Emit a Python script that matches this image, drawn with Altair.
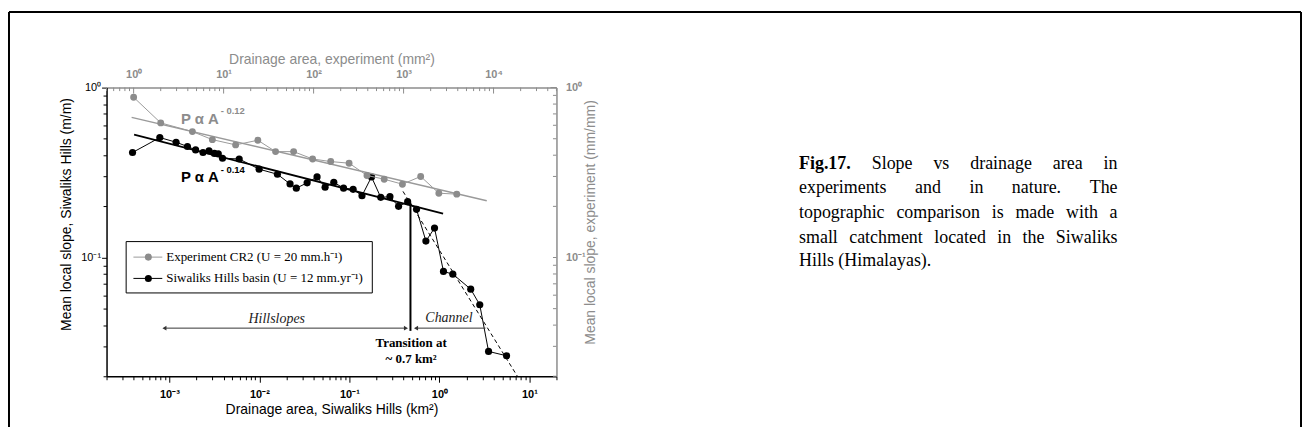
import altair as alt
import pandas as pd

# ---------------- data ----------------
siwaliks_area = [3.89e-4, 7.82e-4, 1.186e-3, 1.585e-3, 1.954e-3, 2.36e-3, 2.754e-3, 3.16e-3,
                 3.49e-3, 3.89e-3, 5.96e-3, 9.93e-3, 1.585e-2, 2.19e-2, 2.57e-2, 3.39e-2,
                 4.37e-2, 5.37e-2, 6.71e-2, 8.61e-2, 0.110, 0.138, 0.176, 0.223, 0.282,
                 0.352, 0.444, 0.557, 0.708, 0.883, 1.11, 1.41, 2.23, 2.81, 3.52, 5.58]
siwaliks_slope = [0.415, 0.508, 0.477, 0.45, 0.43, 0.415, 0.424, 0.41, 0.407, 0.384, 0.38,
                  0.331, 0.309, 0.271, 0.256, 0.275, 0.298, 0.259, 0.277, 0.256, 0.252,
                  0.231, 0.298, 0.226, 0.228, 0.20, 0.213, 0.192, 0.125, 0.149, 0.0828,
                  0.0798, 0.0651, 0.0527, 0.028, 0.0264]

exp_area = [1.0, 2.0, 4.5, 7.5, 13.6, 24, 37.8, 60, 97.5, 155, 248, 392, 609, 971, 1549, 2466, 3900]
exp_slope = [0.877, 0.62, 0.551, 0.494, 0.46, 0.49, 0.42, 0.42, 0.38, 0.367, 0.359, 0.304,
             0.289, 0.27, 0.30, 0.239, 0.236]

fit_siw_area = [4.05e-4, 1.10]
fit_siw_slope = [0.529, 0.181]
fit_exp_area = [0.95, 8400]
fit_exp_slope = [0.668, 0.216]
channel_fit_area = [0.394, 7.36]
channel_fit_slope = [0.245, 0.02]

transition_area = [0.477]
transition_top = [0.21]
transition_bottom = [0.037]
arrow_start = [8.8e-4, 0.55]
arrow_end = [0.425, 3.25]
arrow_slope = [0.0384, 0.0384]
head_area = [8.8e-4, 0.425, 0.55]
head_shape = ["triangle-left", "triangle-right", "triangle-left"]

legend_labels = ["Experiment CR2 (U = 20 mm.h\u207b\u00b9)", "Siwaliks Hills basin (U = 12 mm.yr\u207b\u00b9)"]

caption_words = [
    ["Fig.17.", "Slope", "vs", "drainage", "area", "in"],
    ["experiments", "and", "in", "nature.", "The"],
    ["topographic", "comparison", "is", "made", "with", "a"],
    ["small", "catchment", "located", "in", "the", "Siwaliks"],
    ["Hills (Himalayas)."],
]

# ---------------- layout ----------------
W, H = 452, 290
PAD_L, PAD_T = 99, 79
TOTAL_W, TOTAL_H = 1300, 419
GRAY = "#8c8c8c"
LGRAY = "#9a9a9a"
SANS = "Liberation Sans"
SERIF = "Liberation Serif"


def log_ticks(lo, hi):
    out = []
    for k in range(-5, 6):
        for m in range(1, 10):
            v = float(f"{m}e{k}")
            if lo * 0.999 <= v <= hi * 1.001:
                out.append(v)
    return out


LOGV = "log(datum.value)/LN10"
IS_MAJOR = f"abs({LOGV} - round({LOGV})) < 0.001"
LABEL = (f"{IS_MAJOR} ? '10' + ({LOGV} < -0.5 ? '\u207b' : '') + "
         f"['\u2070','\u00b9','\u00b2','\u00b3','\u2074','\u2075'][abs(round({LOGV}))] : ''")

xb_dom = [2e-4, 20]
xt_dom = [0.5, 5e4]
y_dom = [0.02, 1]

ax_bottom = alt.Axis(
    orient="bottom", values=log_ticks(*xb_dom), labelExpr=LABEL, grid=False,
    tickSize={"condition": {"test": IS_MAJOR, "value": 6}, "value": 3.5},
    tickColor="black", tickWidth=1, domainColor="black", domainWidth=1.5,
    labelFont=SANS, labelFontWeight="bold", labelFontSize=11, labelColor="black",
    labelPadding=6, labelOverlap=False, labelFlush=False,
    title="Drainage area, Siwaliks Hills (km\u00b2)", titleFont=SANS, titleFontSize=14,
    titleFontWeight="normal", titleColor="black", titlePadding=3)
ax_left = alt.Axis(
    orient="left", values=log_ticks(*y_dom), labelExpr=LABEL, grid=False,
    tickSize={"condition": {"test": IS_MAJOR, "value": 5}, "value": 3.5},
    tickColor="black", tickWidth=1, domainColor="black", domainWidth=1.5,
    labelFont=SANS, labelFontSize=11, labelColor="black", labelPadding=1,
    labelOverlap=False, labelFlush=False,
    title="Mean local slope, Siwaliks Hills (m/m)", titleFont=SANS, titleFontSize=14,
    titleFontWeight="normal", titleColor="black", titleAngle=270, titleBaseline="middle",
    titleX=-40.5, titleY=127)
ax_top = alt.Axis(
    orient="top", values=[1, 10, 100, 1000, 10000], labelExpr=LABEL, grid=False, ticks=False,
    domainColor=GRAY, domainWidth=1.5,
    labelFont=SANS, labelFontWeight="bold", labelFontSize=11, labelColor=GRAY,
    labelPadding=8, labelOverlap=False, labelFlush=False,
    title="Drainage area, experiment (mm\u00b2)", titleFont=SANS, titleFontSize=14,
    titleFontWeight="normal", titleColor=GRAY, titlePadding=2)
ax_right = alt.Axis(
    orient="right", values=[0.1, 1], labelExpr=LABEL, grid=False, ticks=False,
    domainColor=GRAY, domainWidth=1.5,
    labelFont=SANS, labelFontWeight="bold", labelFontSize=11, labelColor=GRAY,
    labelPadding=9, labelOverlap=False, labelFlush=False,
    title="Mean local slope, experiment (mm/mm)", titleFont=SANS, titleFontSize=14,
    titleFontWeight="normal", titleColor=GRAY, titleAngle=270, titleBaseline="middle",
    titleX=34, titleY=135)

XB = alt.X("area:Q", scale=alt.Scale(type="log", domain=xb_dom, nice=False), axis=ax_bottom)
YL = alt.Y("slope:Q", scale=alt.Scale(type="log", domain=y_dom, nice=False), axis=ax_left)
XT = alt.X("area:Q", scale=alt.Scale(type="log", domain=xt_dom, nice=False), axis=ax_top)
YR = alt.Y("slope:Q", scale=alt.Scale(type="log", domain=y_dom, nice=False), axis=ax_right)

# ---------------- black (Siwaliks) group ----------------
siw = pd.DataFrame({"area": siwaliks_area, "slope": siwaliks_slope})
fit_siw = pd.DataFrame({"area": fit_siw_area, "slope": fit_siw_slope})
chan_fit = pd.DataFrame({"area": channel_fit_area, "slope": channel_fit_slope})
trans = pd.DataFrame({"area": transition_area, "slope": transition_top, "slope2": transition_bottom})
arrows = pd.DataFrame({"area": arrow_start, "area2": arrow_end, "slope": arrow_slope})
heads = pd.DataFrame({"area": head_area, "slope": [arrow_slope[0]] * 3, "shape": head_shape})

black_group = alt.layer(
    alt.Chart(fit_siw).mark_line(color="black", strokeWidth=1.8, clip=True).encode(x=XB, y=YL),
    alt.Chart(chan_fit).mark_line(color="black", strokeWidth=1, strokeDash=[4, 3], clip=True).encode(x=XB, y=YL),
    alt.Chart(siw).mark_line(color="black", strokeWidth=1, clip=True).encode(x=XB, y=YL),
    alt.Chart(siw).mark_circle(color="black", size=52, opacity=1).encode(x=XB, y=YL),
    alt.Chart(trans).mark_rule(color="black", strokeWidth=2).encode(x=XB, y=YL, y2="slope2:Q"),
    alt.Chart(arrows).mark_rule(color="#333333", strokeWidth=1).encode(x=XB, x2="area2:Q", y=YL),
    alt.Chart(heads).mark_point(filled=True, color="#333333", size=22, opacity=1).encode(
        x=XB, y=YL, shape=alt.Shape("shape:N", scale=None)),
)

# ---------------- gray (experiment) group ----------------
exp = pd.DataFrame({"area": exp_area, "slope": exp_slope})
fit_exp = pd.DataFrame({"area": fit_exp_area, "slope": fit_exp_slope})
top_ticks = log_ticks(*xt_dom)
top_minor = pd.DataFrame({"area": [v for v in top_ticks if not str(v).startswith("1")]})
top_major = pd.DataFrame({"area": [v for v in top_ticks if str(v).startswith("1")]})
right_ticks = log_ticks(*y_dom)
right_minor = pd.DataFrame({"slope": [v for v in right_ticks if not str(v).startswith("1")]})
right_major = pd.DataFrame({"slope": [v for v in right_ticks if str(v).startswith("1")]})

gray_group = alt.layer(
    alt.Chart(fit_exp).mark_line(color=LGRAY, strokeWidth=1.5, clip=True).encode(x=XT, y=YR),
    alt.Chart(exp).mark_line(color=LGRAY, strokeWidth=1, clip=True).encode(x=XT, y=YR),
    alt.Chart(exp).mark_circle(color=GRAY, size=48, opacity=1).encode(x=XT, y=YR),
    alt.Chart(top_minor).mark_rule(color=GRAY, strokeWidth=1).encode(x=XT, y=alt.value(0), y2=alt.value(3.5)),
    alt.Chart(top_major).mark_rule(color=GRAY, strokeWidth=1).encode(x=XT, y=alt.value(0), y2=alt.value(6)),
    alt.Chart(right_minor).mark_rule(color=GRAY, strokeWidth=1).encode(y=YR, x=alt.value(W - 3.5), x2=alt.value(W)),
    alt.Chart(right_major).mark_rule(color=GRAY, strokeWidth=1).encode(y=YR, x=alt.value(W - 6), x2=alt.value(W)),
)

# ---------------- annotations ----------------
one = pd.DataFrame({"k": [0]})


def text(s, x, y, **kw):
    return alt.Chart(one).mark_text(**kw).encode(x=alt.value(x), y=alt.value(y), text=alt.value(s))


def rule(**enc):
    return alt.Chart(one).mark_rule(**enc.pop("mk")).encode(**{k: alt.value(v) for k, v in enc.items()})


notes = [
    text("P \u03b1 A", 74.7, 36.3, font=SANS, fontSize=15, fontWeight="bold", color=GRAY, align="left", baseline="alphabetic"),
    text("- 0.12", 114.7, 27, font=SANS, fontSize=9.5, fontWeight="bold", color=GRAY, align="left", baseline="alphabetic"),
    text("P \u03b1 A", 74.7, 94.7, font=SANS, fontSize=15, fontWeight="bold", color="black", align="left", baseline="alphabetic"),
    text("- 0.14", 114.7, 85.3, font=SANS, fontSize=9.5, fontWeight="bold", color="black", align="left", baseline="alphabetic"),
    text("Hillslopes", 171, 232, font=SERIF, fontSize=14, fontStyle="italic", color="#222222", align="center", baseline="middle"),
    text("Channel", 344, 231, font=SERIF, fontSize=14, fontStyle="italic", color="#222222", align="center", baseline="middle"),
    text("Transition at", 306, 257, font=SERIF, fontSize=13, fontWeight="bold", color="black", align="center", baseline="middle"),
    text("~ 0.7 km\u00b2", 306, 273, font=SERIF, fontSize=13, fontWeight="bold", color="black", align="center", baseline="middle"),
]

# legend (drawn by hand to match the boxed legend of the figure)
legend_rows = [(170.3, GRAY, LGRAY), (191.7, "black", "black")]
legend = [alt.Chart(one).mark_rect(fill="white", stroke="black", strokeWidth=1).encode(
    x=alt.value(19.7), x2=alt.value(267), y=alt.value(154.7), y2=alt.value(206.3))]
for (yy, pc, lc), lab in zip(legend_rows, legend_labels):
    legend.append(rule(mk=dict(color=lc, strokeWidth=1), x=27, x2=56, y=yy))
    legend.append(alt.Chart(one).mark_circle(color=pc, size=50, opacity=1).encode(x=alt.value(42), y=alt.value(yy)))
    legend.append(text(lab, 60, yy, font=SERIF, fontSize=13, color="black", align="left", baseline="middle"))

# caption on the right, word-placed to mimic the justified paragraph
cap_right = 1122.7 - 107
cap_base = [81.3, 106.3, 131.3, 155.7, 179.7]
cap_x = [
    [802.7, 875.7, 937.7, 974.7, 1057.7],
    [802.7, 919.3, 973.9, 1016.5],
    [802.7, 900.5, 996.3, 1020.1, 1070.9],
    [802.7, 853.1, 938.5, 1001.9, 1027.3],
    [802.7],
]
caption = []
for li, words in enumerate(caption_words):
    for wi, wd in enumerate(words):
        bold = wd == "Fig.17."
        if li < 4 and wi == len(words) - 1:
            caption.append(text(wd, cap_right, cap_base[li], font=SERIF, fontSize=18, color="black",
                                align="right", baseline="alphabetic"))
        else:
            caption.append(text(wd, cap_x[li][wi] - 107, cap_base[li], font=SERIF, fontSize=18, color="black",
                                align="left", baseline="alphabetic", fontWeight="bold" if bold else "normal"))

# figure frame
frame = [
    rule(mk=dict(color="black", strokeWidth=2), x=-98, y=-76, y2=345),
    rule(mk=dict(color="black", strokeWidth=2), x=-98, x2=1200, y=-76),
    rule(mk=dict(color="black", strokeWidth=2), x=1200, y=-76, y2=345),
]

chart = alt.layer(black_group, gray_group, *notes, *legend, *caption, *frame).resolve_scale(
    x="independent", y="independent"
).properties(
    width=W, height=H,
    autosize=alt.AutoSizeParams(type="none"),
    padding={"left": PAD_L, "top": PAD_T, "right": TOTAL_W - PAD_L - W, "bottom": TOTAL_H - PAD_T - H},
    background="white",
).configure_view(stroke=None)

chart.save("out.html", embed_options={"renderer": "svg", "actions": False})
